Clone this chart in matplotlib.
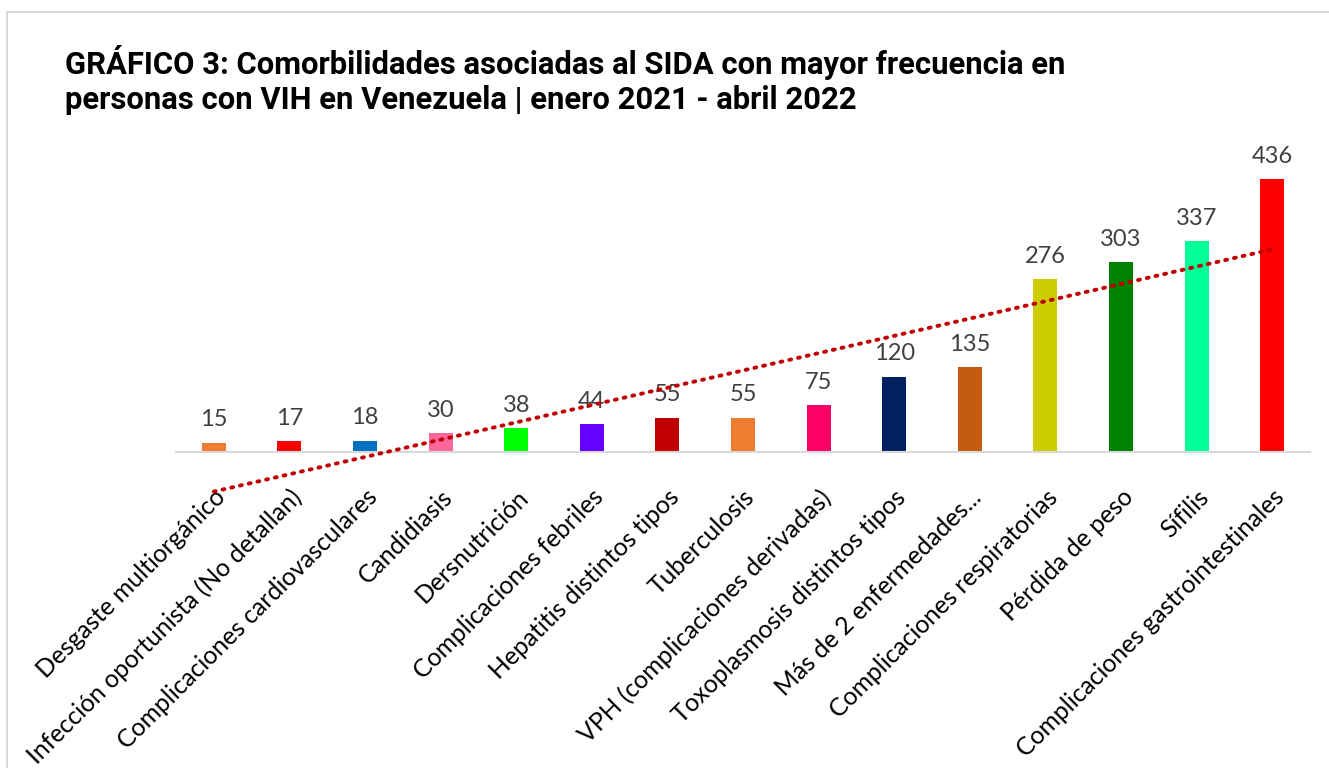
import numpy as np
import matplotlib.pyplot as plt
from matplotlib.patches import Rectangle


categorias = ['Desgaste multiorgánico', 'Infección oportunista (No detallan)',
              'Complicaciones cardiovasculares', 'Candidiasis', 'Dersnutrición',
              'Complicaciones febriles', 'Hepatitis distintos tipos', 'Tuberculosis',
              'VPH (complicaciones derivadas)', 'Toxoplasmosis distintos tipos',
              'Más de 2 enfermedades...', 'Complicaciones respiratorias',
              'Pérdida de peso', 'Sífilis', 'Complicaciones gastrointestinales']
casos = [15, 17, 18, 30, 38, 44, 55, 55, 75, 120, 135, 276, 303, 337, 436]
colores = ['#ED7D31', '#FF0000', '#0070C0', '#FF6699', '#00FF00', '#6600FF',
           '#C00000', '#ED7D31', '#FF0066', '#002060', '#C55A11', '#CCCC00',
           '#008000', '#00FF99', '#FF0000']

titulo = ('GRÁFICO 3: Comorbilidades asociadas al SIDA con mayor frecuencia en\n'
          'personas con VIH en Venezuela | enero 2021 - abril 2022')


def main():
    fig = plt.figure(figsize=(13.29, 7.68), dpi=100)
    # marco gris del grafico
    fig.patches.append(Rectangle((7 / 1329, -0.01), 1.1, 1 - 12 / 768 + 0.01,
                                 transform=fig.transFigure, fill=False,
                                 edgecolor='#D9D9D9', linewidth=1.5))

    ax = fig.add_axes([176 / 1329, 1 - 452 / 768, (1310 - 176) / 1329, (452 - 139) / 768])
    x = np.arange(len(casos))
    ax.bar(x, casos, width=0.32, color=colores, zorder=2)

    for xi, v in zip(x, casos):
        ax.annotate(str(v), (xi, v), xytext=(0, 9), textcoords='offset points',
                    ha='center', va='bottom', fontsize=17, color='#404040',
                    family='Lato')

    # linea de tendencia lineal
    m, b = np.polyfit(x + 1, casos, 1)
    ax.plot(x, m * (x + 1) + b, color='#C00000', linestyle=(0, (0.5, 1.8)),
            linewidth=2.8, dash_capstyle='round', zorder=3, clip_on=False)

    ax.set_xlim(-0.5, len(casos) - 0.5)
    ax.set_ylim(0, 500)
    ax.set_yticks([])
    ax.set_xticks(x)
    ax.set_xticklabels(categorias, rotation=45, ha='right', rotation_mode='anchor',
                       fontsize=17.8, family='Lato', color='#000000')
    ax.tick_params(axis='x', length=0, pad=24)
    for lado in ['top', 'right', 'left']:
        ax.spines[lado].set_visible(False)
    ax.spines['bottom'].set_color('#D9D9D9')
    ax.spines['bottom'].set_linewidth(1.5)

    fig.text(65 / 1329, 1 - 45 / 768, titulo, ha='left', va='top', fontsize=22.3,
             fontweight='bold', family=['Roboto', 'DejaVu Sans'],
             linespacing=1.22)

    fig.savefig('out.png', dpi=100)


if __name__ == '__main__':
    main()
